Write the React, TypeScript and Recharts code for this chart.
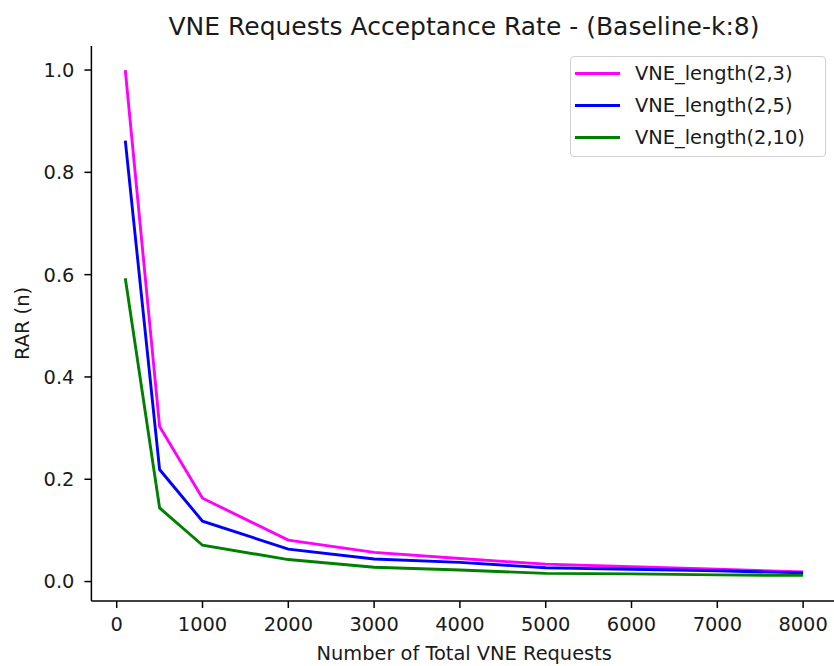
import React from "react";
import { LineChart, Line, XAxis, YAxis, Legend, Label } from "recharts";

const requests = [100, 500, 1000, 2000, 3000, 4000, 5000, 6000, 7000, 8000];
const len23 = [1.0, 0.303, 0.163, 0.081, 0.057, 0.045, 0.034, 0.029, 0.024, 0.019];
const len25 = [0.862, 0.219, 0.118, 0.0635, 0.044, 0.0375, 0.027, 0.024, 0.021, 0.017];
const len210 = [0.593, 0.144, 0.071, 0.043, 0.028, 0.0225, 0.016, 0.015, 0.013, 0.012];
const xTicks = [0, 1000, 2000, 3000, 4000, 5000, 6000, 7000, 8000];
const yTicks = [0, 0.2, 0.4, 0.6, 0.8, 1.0];

const series = [
  { key: "a", name: "VNE_length(2,3)", values: len23, color: "#ff00ff" },
  { key: "b", name: "VNE_length(2,5)", values: len25, color: "#0000ff" },
  { key: "c", name: "VNE_length(2,10)", values: len210, color: "#008000" },
];

const data = requests.map((x, i) => ({
  x,
  a: len23[i],
  b: len25[i],
  c: len210[i],
}));

const FONT = "'DejaVu Sans', sans-serif";
const TEXT = "#1a1a1a";

const LegendBox = () => (
  <div
    style={{
      border: "1px solid #d0d0d0",
      borderRadius: 4,
      background: "rgba(255,255,255,0.8)",
      padding: "0 10px 3px 4px",
      fontFamily: FONT,
      fontSize: 19.4,
      color: TEXT,
      boxSizing: "border-box",
      width: 256,
    }}
  >
    {series.map((s) => (
      <div key={s.key} style={{ display: "flex", alignItems: "center", height: 32 }}>
        <div style={{ width: 45, height: 3, background: s.color, marginRight: 15 }} />
        <span>{s.name}</span>
      </div>
    ))}
  </div>
);

const App: React.FC = () => {
  return (
    <div
      style={{
        position: "absolute",
        left: 0,
        top: 0,
        width: 834,
        height: 666,
        overflow: "hidden",
        background: "#fff",
      }}
    >
      <LineChart
        width={851}
        height={666}
        data={data}
        margin={{ top: 46, right: 14, left: 0, bottom: 0 }}
      >
        <text
          x={464}
          y={35}
          textAnchor="middle"
          fontFamily={FONT}
          fontSize={25}
          fill={TEXT}
        >
          VNE Requests Acceptance Rate - (Baseline-k:8)
        </text>
        <XAxis
          xAxisId="top"
          orientation="top"
          dataKey="x"
          type="number"
          domain={[-295, 8395]}
          height={0}
          tick={false}
          tickLine={false}
          axisLine={{ stroke: "#000", strokeWidth: 1.5 }}
        />
        <XAxis
          dataKey="x"
          type="number"
          domain={[-295, 8395]}
          ticks={xTicks}
          allowDataOverflow
          height={65}
          tickSize={7}
          tickMargin={9}
          axisLine={{ stroke: "#000", strokeWidth: 1.5 }}
          tickLine={{ stroke: "#000", strokeWidth: 1.5 }}
          tick={{ fill: TEXT, fontSize: 19.4, fontFamily: FONT }}
        >
          <Label
            content={(props: any) => {
              const vb = props.viewBox || {};
              return (
                <text
                  x={vb.x + vb.width / 2}
                  y={vb.y + 59}
                  textAnchor="middle"
                  fontFamily={FONT}
                  fontSize={19.4}
                  fill={TEXT}
                >
                  Number of Total VNE Requests
                </text>
              );
            }}
          />
        </XAxis>
        <YAxis
          type="number"
          domain={[-0.038, 1.047]}
          ticks={yTicks}
          allowDataOverflow
          width={91.4}
          tickSize={7}
          tickMargin={10}
          tickFormatter={(v: number) => v.toFixed(1)}
          axisLine={{ stroke: "#000", strokeWidth: 1.5 }}
          tickLine={{ stroke: "#000", strokeWidth: 1.5 }}
          tick={{ fill: TEXT, fontSize: 19.4, fontFamily: FONT }}
        >
          <Label
            content={(props: any) => {
              const vb = props.viewBox || {};
              const cy = vb.y + vb.height / 2;
              return (
                <text
                  x={29}
                  y={cy}
                  textAnchor="middle"
                  transform={`rotate(-90 29 ${cy})`}
                  fontFamily={FONT}
                  fontSize={19.4}
                  fill={TEXT}
                >
                  RAR (n)
                </text>
              );
            }}
          />
        </YAxis>
        <Legend
          layout="horizontal"
          align="center"
          verticalAlign="middle"
          wrapperStyle={{ top: 56, left: 570, width: 256 }}
          content={() => <LegendBox />}
        />
        {series.map((s) => (
          <Line
            key={s.key}
            dataKey={s.key}
            name={s.name}
            stroke={s.color}
            strokeWidth={2.9}
            dot={false}
            activeDot={false}
            isAnimationActive={false}
          />
        ))}
      </LineChart>
    </div>
  );
};

export default App;
